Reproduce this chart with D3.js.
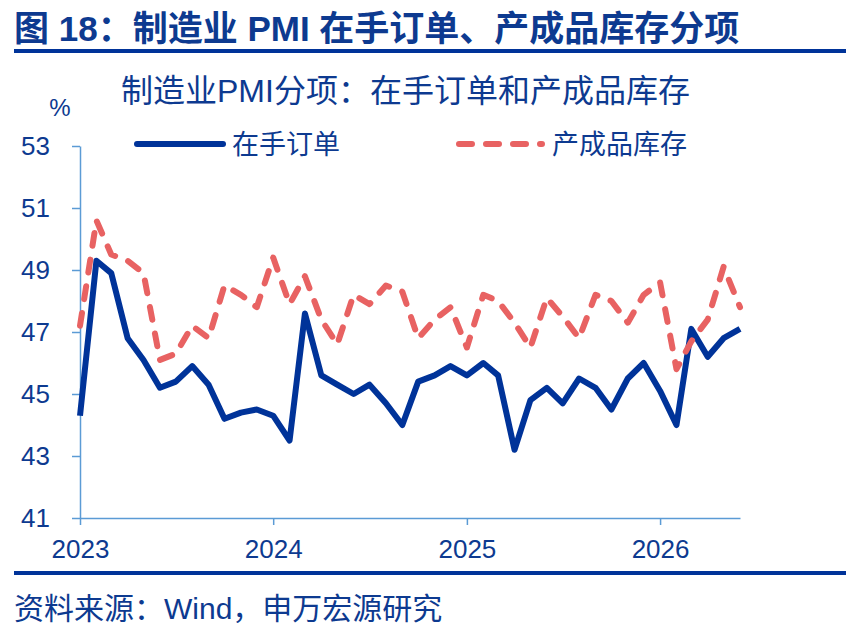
<!DOCTYPE html>
<html>
<head>
<meta charset="utf-8">
<script src="https://cdn.jsdelivr.net/npm/d3@7"></script>
<style>
  body { margin: 0; background: #fff; }
  svg text { font-family: "Liberation Sans", Arial, "Noto Sans CJK SC", sans-serif; }
</style>
</head>
<body>
<svg id="chart" width="860" height="636"></svg>
<script>
const firstMonth = '2023-01';
const lastMonth = '2026-06';
const yTicks = [41, 43, 45, 47, 49, 51, 53];
const seriesNames = ['在手订单', '产成品库存'];

// 在手订单
const backlog = [44.3, 49.3, 48.9, 46.8, 46.1, 45.2, 45.4, 45.9, 45.3, 44.2, 44.4, 44.5,
  44.3, 43.5, 47.6, 45.6, 45.3, 45.0, 45.3, 44.7, 44.0, 45.4, 45.6, 45.9,
  45.6, 46.0, 45.6, 43.2, 44.8, 45.2, 44.7, 45.5, 45.2, 44.5, 45.5, 46.0,
  45.1, 44.0, 47.1, 46.2, 46.8, 47.1];
// 产成品库存
const inventory = [47.2, 50.6, 49.5, 49.3, 48.9, 46.1, 46.3, 47.2, 46.8, 48.5, 48.2, 47.8,
  49.4, 47.9, 48.8, 47.4, 46.6, 48.2, 47.9, 48.5, 48.3, 46.8, 47.4, 47.8,
  46.5, 48.2, 48.0, 47.3, 46.5, 48.1, 47.5, 46.8, 48.2, 48.0, 47.3, 48.2,
  48.6, 45.8, 46.7, 47.4, 49.1, 47.8];

const parse = d3.timeParse('%Y-%m');
const months = d3.timeMonth.range(parse(firstMonth), d3.timeMonth.offset(parse(lastMonth), 1));

const textColor = '#0d3a90';
const blue = '#003399';
const red = '#e86262';
const axisColor = '#5b9bd5';

const svg = d3.select('#chart');

// title + rules
svg.append('text')
  .attr('x', 14).attr('y', 41)
  .style('font-size', '35px').style('font-weight', 'bold')
  .style('fill', textColor)
  .text('图 18：制造业 PMI 在手订单、产成品库存分项');

svg.append('rect').attr('x', 14).attr('y', 49).attr('width', 832).attr('height', 4).style('fill', blue);
svg.append('rect').attr('x', 14).attr('y', 571).attr('width', 832).attr('height', 4).style('fill', blue);

svg.append('text')
  .attr('x', 14).attr('y', 619)
  .style('font-size', '30px')
  .style('fill', textColor)
  .text('资料来源：Wind，申万宏源研究');

svg.append('text')
  .attr('x', 121).attr('y', 102)
  .style('font-size', '32px')
  .style('fill', textColor)
  .text('制造业PMI分项：在手订单和产成品库存');

svg.append('text')
  .attr('x', 60).attr('y', 116)
  .attr('text-anchor', 'middle')
  .style('font-size', '24px')
  .style('fill', textColor)
  .text('%');

const x = d3.scaleTime()
  .domain([months[0], months[months.length - 1]])
  .range([80, 740]);
const y = d3.scaleLinear().domain([41, 53]).range([518, 146]);

// axes
const gy = svg.append('g').attr('transform', 'translate(80,0)')
  .call(d3.axisLeft(y).tickValues(yTicks).tickSize(8).tickSizeOuter(0).tickPadding(22));
const gx = svg.append('g').attr('transform', 'translate(0,518)')
  .call(d3.axisBottom(x).ticks(d3.timeYear.every(1)).tickFormat(d3.timeFormat('%Y'))
    .tickSize(7).tickSizeOuter(0).tickPadding(15));

[gy, gx].forEach(g => {
  g.select('.domain').style('stroke', axisColor).style('stroke-width', 1.5);
  g.selectAll('.tick line').style('stroke', axisColor).style('stroke-width', 1.5);
  g.selectAll('.tick text')
    .style('font-size', '26px')
    .style('font-family', '"Liberation Sans", Arial, sans-serif')
    .style('fill', textColor);
});

// lines
const line = d3.line()
  .x((d, i) => x(months[i]))
  .y(d => y(d));

svg.append('path')
  .datum(backlog)
  .attr('d', line)
  .style('fill', 'none')
  .style('stroke', blue)
  .style('stroke-width', 6)
  .style('stroke-linejoin', 'round');

svg.append('path')
  .datum(inventory)
  .attr('d', line)
  .style('fill', 'none')
  .style('stroke', red)
  .style('stroke-width', 6)
  .style('stroke-dasharray', '13,14')
  .style('stroke-linecap', 'round')
  .style('stroke-linejoin', 'round');

// legend
const legend = [
  { name: seriesNames[0], color: blue, dash: null, x1: 137, x2: 223, tx: 232 },
  { name: seriesNames[1], color: red, dash: '13,14', x1: 459, x2: 542, tx: 552 }
];
legend.forEach(l => {
  svg.append('line')
    .attr('x1', l.x1).attr('x2', l.x2).attr('y1', 144).attr('y2', 144)
    .style('stroke', l.color)
    .style('stroke-width', 6)
    .style('stroke-linecap', 'round')
    .style('stroke-dasharray', l.dash);
  svg.append('text')
    .attr('x', l.tx).attr('y', 154)
    .style('font-size', '27px')
    .style('fill', textColor)
    .text(l.name);
});
</script>
</body>
</html>
